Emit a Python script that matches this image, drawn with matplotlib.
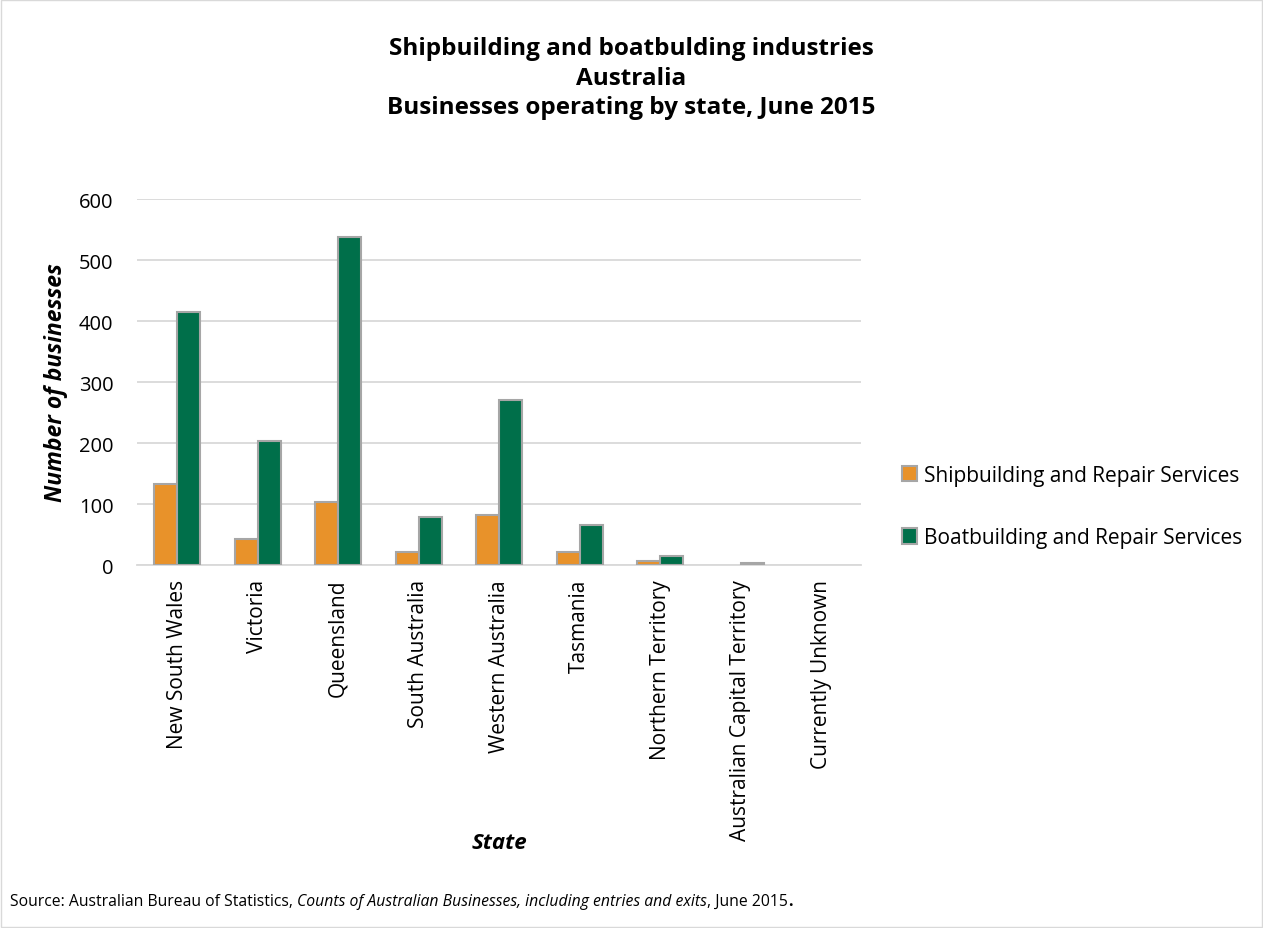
import numpy as np
import matplotlib.pyplot as plt
from matplotlib.patches import Rectangle

plt.rcParams['font.family'] = ['Open Sans', 'DejaVu Sans']

# data
states = ["New South Wales", "Victoria", "Queensland", "South Australia",
          "Western Australia", "Tasmania", "Northern Territory",
          "Australian Capital Territory", "Currently Unknown"]
ship = [133, 42, 104, 22, 82, 21, 7, 0, 0]
boat = [414, 204, 538, 79, 271, 65, 14, 4, 0]
yticks = [0, 100, 200, 300, 400, 500, 600]

orange = '#E8922A'
green = '#006F4A'
edge = '#A6A6A6'

fig = plt.figure(figsize=(12.63, 9.29), dpi=100)
ax = fig.add_axes([0.1085, 0.3907, 0.5735, 0.394])

x = np.arange(len(states))
w = 0.285
ax.bar(x - w/2, ship, w, color=orange, edgecolor=edge,
       linewidth=[1.5 if v > 0 else 0 for v in ship],
       label='Shipbuilding and Repair Services', zorder=3)
ax.bar(x + w/2, boat, w, color=green, edgecolor=edge,
       linewidth=[1.5 if v > 0 else 0 for v in boat],
       label='Boatbuilding and Repair Services', zorder=3)

ax.set_xlim(-0.5, len(states) - 0.5)
ax.set_ylim(0, 600)
ax.set_yticks(yticks)
ax.yaxis.grid(True, color='#D9D9D9', linewidth=1.3, zorder=0)
ax.set_axisbelow(True)
for s in ['top', 'right', 'left']:
    ax.spines[s].set_visible(False)
ax.spines['bottom'].set_color('#D9D9D9')
ax.spines['bottom'].set_linewidth(1.3)
ax.tick_params(axis='both', length=0, colors='#000000')
ax.tick_params(axis='y', pad=17, labelsize=14.5)
ax.tick_params(axis='x', pad=10)
ax.set_xticks(x)
ax.set_xticklabels(states, rotation=90, fontsize=15)

ax.set_ylabel('Number of businesses', fontsize=16.5, fontweight='bold',
              style='italic', labelpad=8)
ax.set_xlabel('State', fontsize=16, fontweight='bold', style='italic',
              va='center')
ax.xaxis.set_label_coords(0.5, -0.757)

fig.text(0.5, 0.960, 'Shipbuilding and boatbulding industries\nAustralia\nBusinesses operating by state, June 2015',
         ha='center', va='top', fontsize=17.5, fontweight='bold', linespacing=1.3)

leg = ax.legend(loc='center left', bbox_to_anchor=(1.03, 0.16), frameon=False,
                fontsize=15, handlelength=0.75, handleheight=0.75,
                labelspacing=2.0, handletextpad=0.3)
for h in leg.legend_handles:
    h.set_linewidth(1.5)

# source line pieces
ys = 0.025
fs = 11.3
t1 = fig.text(0.008, ys, 'Source: Australian Bureau of Statistics, ', fontsize=fs)
fig.canvas.draw()
r = fig.canvas.get_renderer()
bb = t1.get_window_extent(r)
t2 = fig.text(bb.x1 / fig.bbox.width, ys,
              'Counts of Australian Businesses, including entries and exits',
              fontsize=fs, style='italic')
bb2 = t2.get_window_extent(r)
t3 = fig.text(bb2.x1 / fig.bbox.width, ys, ', June 2015', fontsize=fs)
bb3 = t3.get_window_extent(r)
fig.text(bb3.x1 / fig.bbox.width, ys, '.', fontsize=fs, fontweight='bold')

fig.patches.append(Rectangle((0.001, 0.001), 0.998, 0.998, transform=fig.transFigure,
                             fill=False, edgecolor='#D9D9D9', linewidth=1))

fig.savefig('out.png', dpi=100)
